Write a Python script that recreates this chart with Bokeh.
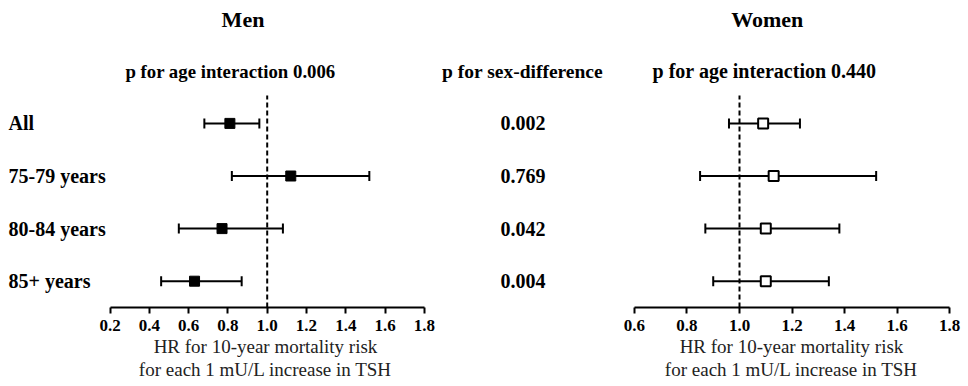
from bokeh.plotting import figure
from bokeh.models import ColumnDataSource, Whisker, TeeHead, FixedTicker, Range1d, Title
from bokeh.layouts import row
from bokeh.embed import file_html
from bokeh.resources import INLINE
from bokeh.core.properties import value

# ---- data ----
groups = ["All", "75-79 years", "80-84 years", "85+ years"]
men_hr = [0.81, 1.12, 0.77, 0.63]
men_lo = [0.68, 0.82, 0.55, 0.46]
men_hi = [0.96, 1.52, 1.08, 0.87]
women_hr = [1.09, 1.13, 1.10, 1.10]
women_lo = [0.96, 0.85, 0.87, 0.90]
women_hi = [1.23, 1.52, 1.38, 1.34]
p_sex = ["0.002", "0.769", "0.042", "0.004"]
p_age_men = "0.006"
p_age_women = "0.440"
men_ticks = [0.2, 0.4, 0.6, 0.8, 1.0, 1.2, 1.4, 1.6, 1.8]
women_ticks = [0.6, 0.8, 1.0, 1.2, 1.4, 1.6, 1.8]
axis_title = ["HR for 10-year mortality risk", "for each 1 mU/L increase in TSH"]
# approximate advance widths (em) of the two axis-title lines in Liberation Serif
axis_title_em = [11.776, 13.33]

FONT = value("Liberation Serif")

# ---- layout constants (pixels) ----
FRAME_H = 307
ROW_PX = 52.6
Y0 = 0.5
Y1 = Y0 + FRAME_H / ROW_PX
n = len(groups)
ypos = [n - i for i in range(n)]
AX_FS = 19


def ydata(py):
    return Y1 - py / ROW_PX


def make_fig(width, x_px_per_unit, one_px, ticks, hr, lo, hi, filled):
    x0 = 1.0 - one_px / x_px_per_unit
    x1 = x0 + width / x_px_per_unit
    p = figure(frame_width=width, frame_height=FRAME_H, output_backend="svg",
               toolbar_location=None, x_range=Range1d(x0, x1), y_range=Range1d(Y0, Y1),
               y_axis_location=None, min_border_left=0, min_border_right=0,
               min_border_top=0, min_border_bottom=386 - FRAME_H)
    p.outline_line_color = None
    p.grid.visible = False
    p.background_fill_color = "white"
    p.border_fill_color = "white"
    ax = p.xaxis[0]
    ax.bounds = (ticks[0], ticks[-1])
    ax.ticker = FixedTicker(ticks=ticks)
    ax.major_label_overrides = {t: f"{t:.1f}" for t in ticks}
    ax.minor_tick_line_color = None
    ax.axis_line_width = 2
    ax.major_tick_line_width = 2
    ax.major_tick_out = 6
    ax.major_tick_in = 0
    ax.major_label_standoff = 6
    ax.major_label_text_font = "Liberation Serif"
    ax.major_label_text_font_style = "bold"
    ax.major_label_text_font_size = "17px"
    ax.major_label_text_color = "black"

    src = ColumnDataSource(dict(y=ypos, hr=hr, lo=lo, hi=hi))
    w = Whisker(source=src, base="y", lower="lo", upper="hi", dimension="width",
                line_width=2, line_color="black",
                upper_head=TeeHead(size=10, line_width=2, line_color="black"),
                lower_head=TeeHead(size=10, line_width=2, line_color="black"))
    p.add_layout(w)
    p.segment(x0=[1.0], y0=[Y0], x1=[1.0], y1=[ypos[0] + 0.53], line_color="black",
              line_width=2, line_dash="5 3")
    if filled:
        p.scatter("hr", "y", source=src, marker="square", size=10,
                  fill_color="black", line_color="black", line_width=1)
    else:
        p.scatter("hr", "y", source=src, marker="square", size=10,
                  fill_color="white", line_color="black", line_width=2)
    return p, x0


def add_axis_title(p, center_px):
    # center_px: horizontal centre of the axis title, relative to the frame's left edge
    for line, em in zip(axis_title, axis_title_em):
        off = center_px - em * AX_FS / 2
        p.add_layout(Title(text=line, align="left", offset=off, standoff=0,
                           text_font="Liberation Serif", text_font_style="normal",
                           text_font_size=f"{AX_FS}px", text_color="#222222"), "below")


def txt(p, xs, ys, texts, size, align="center"):
    p.text(x=xs, y=ys, text=texts, text_font=FONT, text_font_style="bold",
           text_font_size=size, text_align=align, text_baseline="middle",
           text_color="black")


MEN_PPU = 196.4
men_width = 620
p1, mx0 = make_fig(men_width, MEN_PPU, 266.7, men_ticks, men_hr, men_lo, men_hi, True)


def mx(px):
    return mx0 + px / MEN_PPU


txt(p1, [mx(8)] * n, ypos, groups, "20px", align="left")
txt(p1, [mx(522.5)] * n, ypos, p_sex, "20px")
txt(p1, [mx(522)], [ydata(70.5)], ["p for sex-difference"], "19.5px")
txt(p1, [mx(230)], [ydata(70.5)], ["p for age interaction " + p_age_men], "18.8px")
txt(p1, [mx(242.5)], [ydata(19)], ["Men"], "22px")
add_axis_title(p1, 265)

WOM_PPU = 262.8
wom_left = 620
p2, wx0 = make_fig(968 - wom_left, WOM_PPU, 739 - wom_left, women_ticks,
                   women_hr, women_lo, women_hi, False)


def wx(px):
    return wx0 + (px - wom_left) / WOM_PPU


txt(p2, [wx(764)], [ydata(70.5)], ["p for age interaction " + p_age_women], "20px")
txt(p2, [wx(766.7)], [ydata(19)], ["Women"], "22px")
add_axis_title(p2, 791 - wom_left)

layout = row(p1, p2)
open("out.html", "w").write(file_html(layout, INLINE))
